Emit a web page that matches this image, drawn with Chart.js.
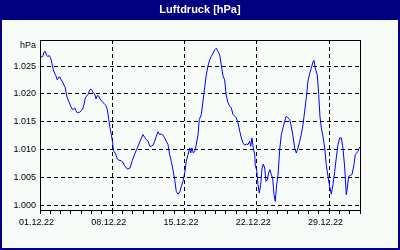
<!DOCTYPE html>
<html>
<head>
<meta charset="utf-8">
<title>Luftdruck</title>
<script src="https://cdn.jsdelivr.net/npm/chart.js@4.4.1/dist/chart.umd.min.js"></script>
<style>
  html, body { margin: 0; padding: 0; background: #fff; }
  #wrap { width: 400px; height: 250px; }
</style>
</head>
<body>
<div id="wrap"><canvas id="luftdruckChart" width="400" height="250"></canvas></div>
<script>
// Zeit in Tagen ab 01.12.22 00:00
const days = [
  0.00, 0.26, 0.39, 0.51, 0.65, 0.77, 0.90, 1.04, 1.16, 1.29, 1.42, 1.55, 1.68, 1.81, 1.94,
  2.06, 2.20, 2.32, 2.45, 2.59, 2.71, 2.84, 2.97, 3.10, 3.23, 3.36, 3.49, 3.61, 3.75, 3.87,
  4.00, 4.14, 4.26, 4.39, 4.52, 4.65, 4.78, 4.91, 5.04, 5.16, 5.30, 5.42, 5.55, 5.69, 5.81,
  5.94, 6.13, 6.27, 6.39, 6.52, 6.66, 6.78, 6.91, 7.04, 7.10, 7.33, 7.49, 7.65, 7.88, 8.07,
  8.20, 8.40, 8.52, 8.72, 8.94, 9.17, 9.43, 9.69, 9.98, 10.14, 10.30, 10.46, 10.63, 10.78, 10.95,
  11.11, 11.27, 11.43, 11.59, 11.75, 11.92, 12.08, 12.24, 12.40, 12.56, 12.72, 12.88, 13.05, 13.20, 13.37,
  13.54, 13.69, 13.85, 14.02, 14.17, 14.34, 14.50, 14.60, 14.72, 14.85, 14.99, 15.14, 15.31, 15.43, 15.63,
  15.79, 15.95, 16.11, 16.27, 16.44, 16.59, 16.76, 16.92, 17.08, 17.24, 17.41, 17.56, 17.73, 17.89, 18.05,
  18.21, 18.38, 18.53, 18.70, 18.86, 19.02, 19.18, 19.35, 19.50, 19.66, 19.83, 19.98, 20.15, 20.31, 20.41,
  20.54, 20.66, 20.80, 20.86, 20.99, 21.12, 21.24, 21.38, 21.51, 21.63, 21.77, 21.89, 22.02, 22.15, 22.28,
  22.41, 22.54, 22.67, 22.79, 22.93, 23.06, 23.22, 23.38, 23.54, 23.70, 23.86, 24.02, 24.19, 24.34, 24.51,
  24.67, 24.83, 24.99, 25.16, 25.31, 25.48, 25.64, 25.80, 25.96, 26.13, 26.28, 26.45, 26.54, 26.67, 26.86,
  27.00, 27.12, 27.25, 27.41, 27.58, 27.73, 27.90, 28.06, 28.22, 28.38, 28.55, 28.70, 28.87, 29.03, 29.19,
  29.35, 29.52, 29.67, 29.77, 29.90, 30.10, 30.22, 30.42, 30.54, 30.68, 30.81, 30.93, 31.00
];
// Luftdruck in hPa
const pressure = [
  1026.6, 1026.7, 1027.5, 1027.6, 1026.9, 1026.7, 1026.9, 1026.4, 1025.5, 1024.3, 1023.7, 1023.2, 1022.5, 1023.0, 1023.0,
  1022.5, 1022.1, 1021.6, 1021.1, 1019.6, 1019.0, 1018.4, 1017.8, 1017.3, 1017.2, 1017.5, 1017.0, 1016.6, 1016.7, 1016.7,
  1017.0, 1017.3, 1018.1, 1019.3, 1019.6, 1019.9, 1020.5, 1020.9, 1020.6, 1020.2, 1020.0, 1019.1, 1019.7, 1019.6, 1019.1,
  1018.8, 1018.4, 1018.1, 1017.9, 1017.2, 1015.4, 1013.9, 1012.7, 1011.2, 1009.9, 1009.2, 1008.3, 1008.1, 1008.0, 1007.6,
  1007.1, 1006.6, 1006.5, 1006.7, 1008.0, 1009.2, 1010.3, 1011.5, 1012.7, 1012.2, 1011.8, 1011.5, 1010.6, 1010.6, 1010.8,
  1011.5, 1012.4, 1013.2, 1012.7, 1012.8, 1012.6, 1012.1, 1011.5, 1010.9, 1009.1, 1007.9, 1006.4, 1004.6, 1002.5, 1002.0,
  1002.4, 1003.4, 1004.3, 1005.8, 1007.9, 1009.1, 1010.3, 1009.4, 1010.3, 1009.4, 1009.7, 1010.9, 1012.7, 1015.4, 1016.3,
  1018.7, 1021.1, 1023.4, 1025.0, 1026.1, 1026.7, 1027.3, 1027.9, 1028.2, 1027.6, 1027.0, 1025.2, 1023.2, 1022.5, 1019.6,
  1018.4, 1017.8, 1017.5, 1016.3, 1016.0, 1015.7, 1014.8, 1013.3, 1012.1, 1011.2, 1010.8, 1011.0, 1010.9, 1011.5, 1010.6,
  1012.1, 1010.3, 1009.1, 1007.0, 1006.4, 1003.7, 1002.2, 1003.7, 1006.7, 1007.4, 1006.7, 1004.3, 1004.6, 1005.8, 1006.4,
  1005.5, 1004.9, 1001.9, 1000.7, 1003.7, 1005.5, 1010.0, 1012.7, 1013.9, 1015.1, 1016.0, 1015.7, 1015.4, 1014.2, 1012.4,
  1010.3, 1009.4, 1010.3, 1011.5, 1012.7, 1014.5, 1016.9, 1019.3, 1022.3, 1023.7, 1024.6, 1025.8, 1026.0, 1024.6, 1023.4,
  1019.9, 1016.0, 1013.9, 1012.4, 1010.3, 1007.3, 1005.2, 1003.4, 1002.0, 1003.7, 1006.1, 1008.5, 1010.9, 1012.1, 1012.1,
  1010.3, 1006.7, 1001.9, 1003.1, 1005.2, 1005.4, 1005.5, 1007.3, 1009.1, 1009.4, 1009.7, 1010.3, 1010.5
];

const xTickDays = [0, 7, 14, 21, 28];
const xTickLabels = ['01.12.22', '08.12.22', '15.12.22', '22.12.22', '29.12.22'];
const yTicks = [1000, 1005, 1010, 1015, 1020, 1025];
const yTickLabels = ['1.000', '1.005', '1.010', '1.015', '1.020', '1.025'];

const FONT = '"Liberation Sans", Arial, sans-serif';
const NAVY = '#000080';

// Rahmen, Titelbalken und Plotrand
const framePlugin = {
    id: 'frame',
    beforeDraw(chart) {
        const c = chart.ctx;
        const w = chart.width, h = chart.height;
        c.save();
        c.fillStyle = '#f8fcf8';
        c.fillRect(0, 0, w, h);
        c.fillStyle = NAVY;
        c.fillRect(0, 0, w, 20);
        c.fillRect(0, 0, 2, h);
        c.fillRect(w - 2, 0, 2, h);
        c.fillRect(0, h - 2, w, 2);
        c.restore();
    },
    afterDraw(chart) {
        const c = chart.ctx;
        const a = chart.chartArea;
        c.save();
        c.strokeStyle = '#000';
        c.lineWidth = 1;
        c.strokeRect(Math.round(a.left) + 0.5, Math.round(a.top) + 0.5,
            Math.round(a.right - a.left), Math.round(a.bottom - a.top));
        c.fillStyle = '#000';
        c.font = '9px ' + FONT;
        c.textAlign = 'right';
        c.textBaseline = 'middle';
        c.fillText('hPa', a.left - 4, a.top + 5.5);
        c.restore();
    }
};

const ctx = document.getElementById('luftdruckChart');
const chart = new Chart(ctx, {
    type: 'line',
    data: {
        datasets: [{
            label: 'Luftdruck',
            data: days.map((d, i) => ({ x: d, y: pressure[i] })),
            borderColor: '#0000ff',
            borderWidth: 1,
            pointRadius: 0,
            tension: 0,
            fill: false
        }]
    },
    options: {
        responsive: false,
        animation: false,
        devicePixelRatio: 1,
        layout: { padding: 0 },
        scales: {
            x: {
                type: 'linear',
                min: 0,
                max: 31,
                afterBuildTicks: s => { s.ticks = Array.from({ length: 32 }, (_, i) => ({ value: i })); },
                afterFit: s => { s.height = 40; },
                border: { display: false, dash: [4, 3] },
                grid: {
                    color: c => (c.tick && c.tick.value > 0 && xTickDays.includes(c.tick.value)) ? '#000' : 'rgba(0,0,0,0)',
                    lineWidth: 1,
                    tickColor: '#000',
                    tickLength: 4,
                    tickWidth: 1
                },
                ticks: {
                    autoSkip: false,
                    maxRotation: 0,
                    padding: 3,
                    labelOffset: -3.5,
                    color: '#000',
                    font: { family: FONT, size: 9 },
                    callback: v => {
                        const i = xTickDays.indexOf(v);
                        return i >= 0 ? xTickLabels[i] : '';
                    }
                }
            },
            y: {
                type: 'linear',
                min: 999.16,
                max: 1029.67,
                afterBuildTicks: s => { s.ticks = yTicks.map(v => ({ value: v })); },
                afterFit: s => { s.width = 40; },
                border: { display: false, dash: [4, 3] },
                grid: { color: '#000', lineWidth: 1, drawTicks: false },
                ticks: {
                    padding: 4,
                    color: '#000',
                    font: { family: FONT, size: 9 },
                    callback: v => {
                        const i = yTicks.indexOf(v);
                        return i >= 0 ? yTickLabels[i] : '';
                    }
                }
            },
            yRight: {
                type: 'linear',
                position: 'right',
                display: true,
                border: { display: false },
                grid: { display: false, drawTicks: false },
                ticks: { display: false },
                afterFit: s => { s.width = 40; }
            }
        },
        plugins: {
            legend: { display: false },
            tooltip: { enabled: false },
            title: {
                display: true,
                text: 'Luftdruck [hPa]',
                color: '#fff',
                font: { family: FONT, size: 11, weight: 'bold', lineHeight: '14px' },
                padding: { top: 3, bottom: 23 }
            }
        }
    },
    plugins: [framePlugin]
});
</script>
</body>
</html>
